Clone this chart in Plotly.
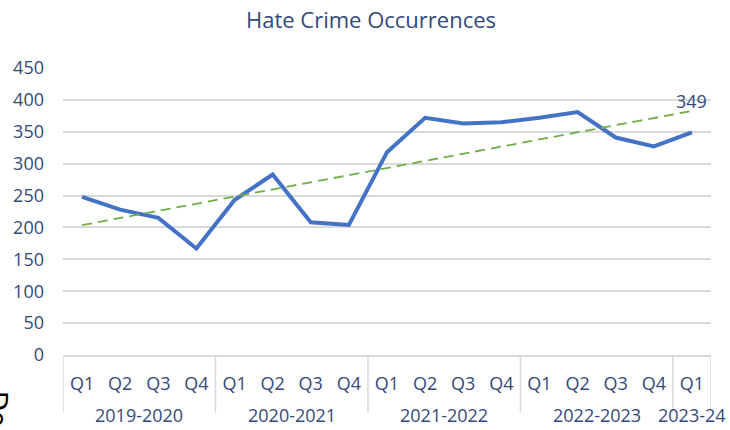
import numpy as np
import plotly.graph_objects as go

title_text = "Hate Crime Occurrences"
years = ["2019-2020"] * 4 + ["2020-2021"] * 4 + ["2021-2022"] * 4 + ["2022-2023"] * 4 + ["2023-24"]
quarters = ["Q1", "Q2", "Q3", "Q4"] * 4 + ["Q1"]
occurrences = [248, 228, 215, 167, 243, 283, 208, 204, 318, 372, 363, 365, 372, 381, 341, 327, 349]
y_ticks = [0, 50, 100, 150, 200, 250, 300, 350, 400, 450]

TEXT = "#34497A"
GRID = "#D9D9D9"
FONT = "Open Sans"

W, H = 730, 430
ML, MR, MT, MB = 63, 19, 68, 75
PW = W - ML - MR

idx = np.arange(len(occurrences))
slope, intercept = np.polyfit(idx, occurrences, 1)
trend = intercept + slope * idx

fig = go.Figure()
fig.add_trace(go.Scatter(
    x=idx, y=occurrences, mode="lines",
    line=dict(color="#4472C4", width=4), showlegend=False,
))
fig.add_trace(go.Scatter(
    x=idx, y=trend, mode="lines",
    line=dict(color="#70AD47", width=1.8, dash="10px,6px"), showlegend=False,
))
fig.add_annotation(
    x=idx[-1], xref="x", y=occurrences[-1], yref="y",
    text=str(occurrences[-1]), showarrow=False, yshift=31,
    font=dict(family=FONT, size=18, color=TEXT),
)

# group (year) labels and dividers
groups = []
for i, yr in enumerate(years):
    if not groups or groups[-1][0] != yr:
        groups.append([yr, i, i])
    else:
        groups[-1][2] = i
bounds = [groups[0][1] - 0.5] + [g[2] + 0.5 for g in groups]
for b in bounds:
    fig.add_shape(type="line", xref="x", yref="paper", x0=b, x1=b, y0=0, y1=-0.2,
                  line=dict(color=GRID, width=1.5))
for yr, a, b in groups:
    fig.add_annotation(x=(a + b) / 2, xref="x", y=0, yref="paper", yanchor="middle",
                       yshift=-60, text=yr, showarrow=False,
                       font=dict(family=FONT, size=18, color=TEXT))

# partial clipped glyph at bottom-left edge
fig.add_annotation(x=(-3 - ML) / PW, xref="paper", y=-(409 - (H - MB)) / (H - MT - MB), yref="paper",
                   xanchor="center", yanchor="middle", text="Do", textangle=90,
                   showarrow=False, font=dict(family="DejaVu Sans", size=26, color="black"))

fig.update_layout(
    width=W, height=H,
    margin=dict(l=ML, r=MR, t=MT, b=MB),
    paper_bgcolor="white", plot_bgcolor="white",
    title=dict(text=title_text, x=371 / W, xanchor="center", y=1 - 20 / H, yanchor="middle",
               font=dict(family=FONT, size=22, color=TEXT)),
    font=dict(family=FONT, size=18, color=TEXT),
)
fig.update_yaxes(
    range=[0, 450], tickvals=y_ticks, showgrid=True, gridcolor=GRID, gridwidth=1.5,
    zeroline=False, showline=False, ticks="", tickfont=dict(family=FONT, size=18, color=TEXT),
    ticklabelstandoff=18,
)
fig.update_xaxes(
    range=[-0.5, len(occurrences) - 0.5], tickvals=idx, ticktext=quarters,
    showgrid=False, zeroline=False, showline=True, linecolor=GRID, linewidth=1.5, ticks="",
    tickfont=dict(family=FONT, size=18, color=TEXT), ticklabelstandoff=12,
)

fig.write_html("out.html", config={"displayModeBar": False},
               post_script="document.body.style.margin='0';document.body.style.overflow='hidden';")
